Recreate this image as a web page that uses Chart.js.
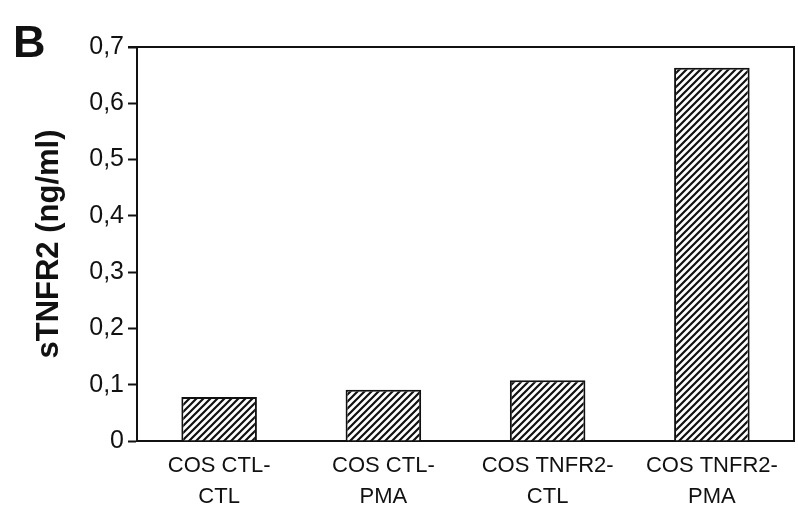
<!DOCTYPE html>
<html>
<head>
<meta charset="utf-8">
<script src="https://cdn.jsdelivr.net/npm/chart.js@4"></script>
<style>
  html, body { margin: 0; padding: 0; background: #fff; }
  #wrap { width: 798px; height: 516px; }
</style>
</head>
<body>
<div id="wrap"><canvas id="sChart" width="798" height="516"></canvas></div>
<script>
// data
const groups = [['COS CTL-', 'CTL'], ['COS CTL-', 'PMA'], ['COS TNFR2-', 'CTL'], ['COS TNFR2-', 'PMA']];
const sTNFR2 = [0.078, 0.091, 0.108, 0.663];
const yTicks = [0, 0.1, 0.2, 0.3, 0.4, 0.5, 0.6, 0.7];

const FONT = "'Liberation Sans', Arial, sans-serif";
Chart.defaults.color = '#111';
Chart.defaults.font.family = FONT;

function hatch() {
    const s = 7;
    const c = document.createElement('canvas');
    c.width = s; c.height = s;
    const g = c.getContext('2d');
    g.fillStyle = '#fff';
    g.fillRect(0, 0, s, s);
    g.strokeStyle = '#111';
    g.lineWidth = 2.2;
    g.beginPath();
    g.moveTo(-1, s + 1); g.lineTo(s + 1, -1);
    g.moveTo(-1, 1); g.lineTo(1, -1);
    g.moveTo(s - 1, s + 1); g.lineTo(s + 1, s - 1);
    g.stroke();
    return g.createPattern(c, 'repeat');
}

// white bg, box around plot, panel letter
const frame = {
    id: 'frame',
    beforeDraw(chart) {
        const ctx = chart.ctx;
        ctx.save();
        ctx.fillStyle = '#fff';
        ctx.fillRect(0, 0, chart.width, chart.height);
        ctx.restore();
    },
    afterDraw(chart) {
        const a = chart.chartArea;
        const ctx = chart.ctx;
        ctx.save();
        ctx.strokeStyle = '#111';
        ctx.lineWidth = 2;
        ctx.beginPath();
        ctx.moveTo(a.left - 9, a.top);
        ctx.lineTo(a.right, a.top);
        ctx.lineTo(a.right, a.bottom);
        ctx.stroke();
        ctx.fillStyle = '#111';
        ctx.font = 'bold 45px ' + FONT;
        ctx.textBaseline = 'alphabetic';
        ctx.fillText('B', 13, 57);
        ctx.restore();
    }
};

new Chart(document.getElementById('sChart'), {
    type: 'bar',
    data: {
        labels: groups,
        datasets: [{
            data: sTNFR2,
            backgroundColor: hatch(),
            borderColor: '#111',
            borderWidth: 2,
            borderSkipped: 'bottom',
            barPercentage: 0.46,
            categoryPercentage: 1
        }]
    },
    options: {
        responsive: false,
        animation: false,
        layout: { padding: { top: 47, right: 4, left: 0, bottom: 0 } },
        plugins: { legend: { display: false }, tooltip: { enabled: false } },
        scales: {
            x: {
                grid: { display: false, drawTicks: false },
                border: { color: '#111', width: 2 },
                ticks: {
                    font: { size: 22, lineHeight: 1.4 },
                    color: '#111',
                    padding: 10,
                    maxRotation: 0,
                    autoSkip: false
                },
                afterFit(s) { s.height = 75; }
            },
            y: {
                min: 0,
                max: 0.7,
                afterBuildTicks(s) { s.ticks = yTicks.map(v => ({ value: v })); },
                grid: { drawOnChartArea: false, tickLength: 9, color: '#111', tickWidth: 2 },
                border: { color: '#111', width: 2 },
                ticks: {
                    font: { size: 25 },
                    color: '#111',
                    padding: 4,
                    callback: v => v === 0 ? '0' : v.toFixed(1).replace('.', ',')
                },
                title: {
                    display: true,
                    text: 'sTNFR2 (ng/ml)',
                    font: { size: 31, weight: 'bold' },
                    color: '#111',
                    padding: { top: 31, bottom: 0 }
                },
                afterFit(s) { s.width = 137; }
            }
        }
    },
    plugins: [frame]
});
</script>
</body>
</html>
